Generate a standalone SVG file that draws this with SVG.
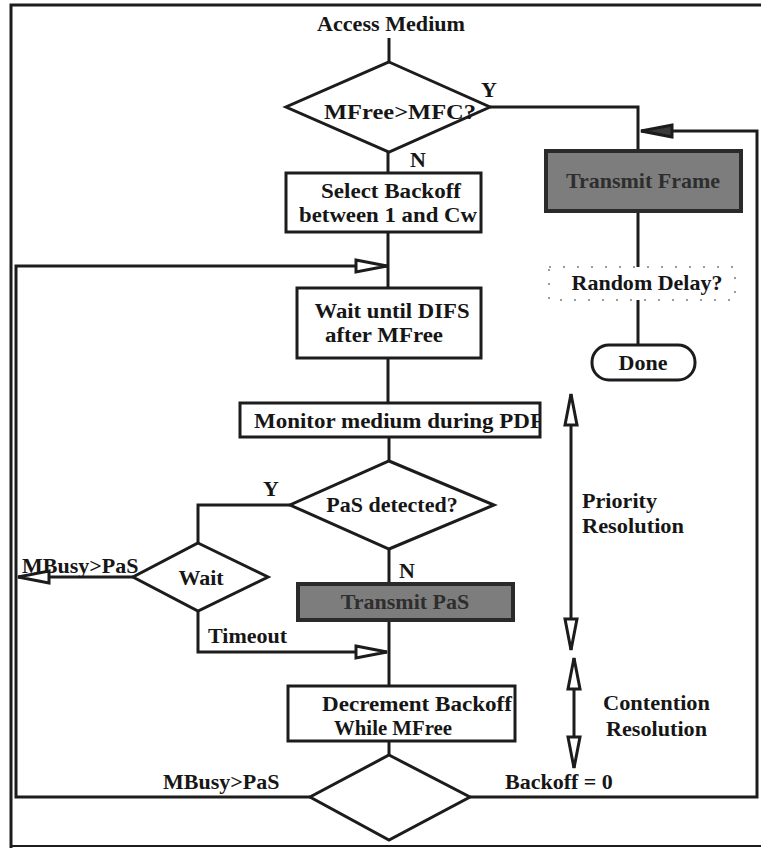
<svg xmlns="http://www.w3.org/2000/svg" width="761" height="848" viewBox="0 0 761 848">
<style>
  .ln { fill: none; stroke: #1c1c1c; stroke-width: 3; }
  .box { fill: #ffffff; stroke: #1c1c1c; stroke-width: 3; }
  .dark { fill: #7d7d7d; stroke: #2a2a2a; stroke-width: 4; }
  .dot { fill: none; stroke: #9a9a9a; stroke-width: 2; stroke-dasharray: 2 12; }
  text { font-family: "Liberation Serif", "Times New Roman", serif; font-weight: bold; font-size: 22px; fill: #161616; }
  .c { text-anchor: middle; }
  .s { font-size: 20px; }
  .dt { fill: #2e2e2e; }
</style>
<defs>
  <marker id="ah" markerUnits="userSpaceOnUse" markerWidth="36" markerHeight="18" refX="33" refY="8" orient="auto-start-reverse">
    <path d="M2,2 L33,8 L2,14 Z" fill="#ffffff" stroke="#1c1c1c" stroke-width="3" stroke-linejoin="miter"/>
  </marker>
  <marker id="ahd" markerUnits="userSpaceOnUse" markerWidth="36" markerHeight="18" refX="33" refY="8" orient="auto">
    <path d="M2,2 L33,8 L2,14 Z" fill="#3a3a3a" stroke="#1c1c1c" stroke-width="3"/>
  </marker>
  <clipPath id="clipMon"><rect x="240" y="403" width="299" height="34"/></clipPath>
</defs>
<rect width="761" height="848" fill="#ffffff"/>

<g id="frame" class="ln">
  <polyline points="11,848 11,5 761,5"/>
  <line x1="11" y1="846" x2="761" y2="846" stroke-width="2"/>
</g>

<g id="connectors" class="ln">
  <line x1="389" y1="38" x2="389" y2="62"/>
  <polyline points="490,107 638,107 638,151"/>
  <polyline points="470,797 757,797 757,131 641,131" marker-end="url(#ahd)"/>
  <line x1="638" y1="211" x2="638" y2="267"/>
  <line x1="638" y1="300" x2="638" y2="345"/>
  <line x1="388" y1="152" x2="388" y2="173"/>
  <line x1="388" y1="232" x2="388" y2="288"/>
  <polyline points="310,797 16,797 16,266 387,266" marker-end="url(#ah)"/>
  <line x1="388" y1="358" x2="388" y2="403"/>
  <line x1="389" y1="437" x2="389" y2="461"/>
  <polyline points="290,505 198,505 198,543"/>
  <line x1="133" y1="577" x2="18" y2="577" marker-end="url(#ah)"/>
  <polyline points="198,611 198,652 387,652" marker-end="url(#ah)"/>
  <line x1="389" y1="549" x2="389" y2="686"/>
  <line x1="389" y1="741" x2="389" y2="755"/>
  <line x1="571" y1="394" x2="571" y2="650" marker-start="url(#ah)" marker-end="url(#ah)"/>
  <line x1="574" y1="658" x2="574" y2="768" marker-start="url(#ah)" marker-end="url(#ah)"/>
</g>

<g id="start">
  <text x="391" y="31" class="c" textLength="148" lengthAdjust="spacingAndGlyphs">Access Medium</text>
</g>

<g id="d-mfree">
  <polygon class="box" points="389,62 490,107 389,152 286,107"/>
  <text x="400" y="119" class="c" textLength="152" lengthAdjust="spacingAndGlyphs">MFree&gt;MFC?</text>
  <text x="489" y="97" class="c">Y</text>
  <text x="418" y="167" class="c">N</text>
</g>

<g id="select-backoff">
  <rect class="box" x="286" y="173" width="195" height="59"/>
  <text x="391" y="198" class="c s" textLength="140" lengthAdjust="spacingAndGlyphs">Select Backoff</text>
  <text x="388" y="222" class="c s" textLength="178" lengthAdjust="spacingAndGlyphs">between 1 and Cw</text>
</g>

<g id="transmit-frame">
  <rect class="dark" x="546" y="151" width="195" height="60"/>
  <text x="643" y="188" class="c dt">Transmit Frame</text>
</g>

<g id="random-delay">
  <rect class="dot" x="549" y="267" width="186" height="33"/>
  <text x="647" y="290" class="c" textLength="151" lengthAdjust="spacingAndGlyphs">Random Delay?</text>
</g>

<g id="done">
  <rect class="box" x="592" y="345" width="103" height="35" rx="17" ry="17"/>
  <text x="643" y="370" class="c">Done</text>
</g>

<g id="wait-difs">
  <rect class="box" x="297" y="288" width="184" height="70"/>
  <text x="392" y="318" class="c s" textLength="155" lengthAdjust="spacingAndGlyphs">Wait until DIFS</text>
  <text x="384" y="342" class="c s" textLength="118" lengthAdjust="spacingAndGlyphs">after MFree</text>
</g>

<g id="monitor">
  <rect class="box" x="240" y="403" width="300" height="34"/>
  <text x="254" y="428" clip-path="url(#clipMon)" textLength="290" lengthAdjust="spacingAndGlyphs">Monitor medium during PDF</text>
</g>

<g id="d-pas">
  <polygon class="box" points="389,461 494,505 389,549 290,505"/>
  <text x="392" y="512" class="c">PaS detected?</text>
  <text x="271" y="496" class="c">Y</text>
  <text x="407" y="578" class="c">N</text>
</g>

<g id="d-wait">
  <polygon class="box" points="198,543 268,577 198,611 133,577"/>
  <text x="201" y="585" class="c">Wait</text>
  <text x="22" y="573">MBusy&gt;PaS</text>
  <text x="208" y="643">Timeout</text>
</g>

<g id="transmit-pas">
  <rect class="dark" x="298" y="584" width="215" height="36" fill="#6e6e6e"/>
  <text x="405" y="609" class="c dt">Transmit PaS</text>
</g>

<g id="decrement">
  <rect class="box" x="288" y="686" width="227" height="55"/>
  <text x="322" y="711" class="s" textLength="190" lengthAdjust="spacingAndGlyphs">Decrement Backoff</text>
  <text x="334" y="735" class="s" textLength="118" lengthAdjust="spacingAndGlyphs">While MFree</text>
</g>

<g id="d-final">
  <polygon class="box" points="389,755 470,797 389,840 310,797"/>
  <text x="163" y="789">MBusy&gt;PaS</text>
  <text x="505" y="789">Backoff = 0</text>
</g>

<g id="labels">
  <text x="582" y="508" textLength="75" lengthAdjust="spacingAndGlyphs">Priority</text>
  <text x="582" y="533" textLength="102" lengthAdjust="spacingAndGlyphs">Resolution</text>
  <text x="603" y="710" textLength="107" lengthAdjust="spacingAndGlyphs">Contention</text>
  <text x="606" y="736" textLength="101" lengthAdjust="spacingAndGlyphs">Resolution</text>
</g>
</svg>
